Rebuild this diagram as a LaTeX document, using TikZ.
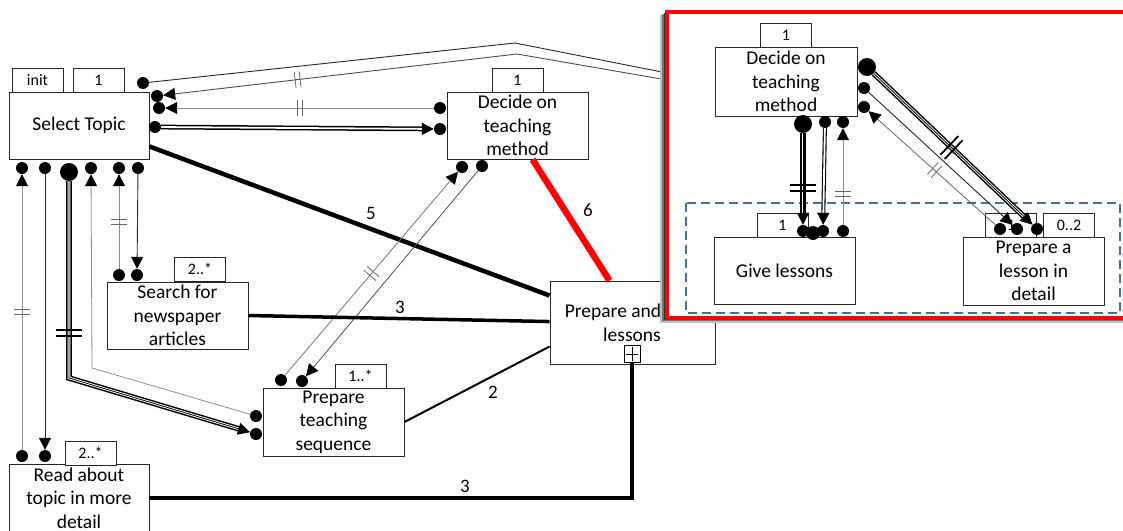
\documentclass[tikz,border=0pt]{standalone}
\usepackage{fontspec}
\setmainfont{Carlito}
\usetikzlibrary{arrows.meta,calc,decorations.markings}
\definecolor{groupblue}{RGB}{65,113,156}
\begin{document}
\begin{tikzpicture}[x=1pt,y=-1pt,
  box/.style={draw=black!85, fill=white, line width=0.9pt, inner sep=0pt, align=center,
    font=\fontsize{19.5}{23.5}\selectfont},
  txt/.style={inner sep=0pt, font=\fontsize{19.5}{23.5}\selectfont},
  tag/.style={draw=black!85, fill=white, line width=0.9pt, inner sep=0pt,
    minimum width=51pt, minimum height=24pt, font=\fontsize{16}{18}\selectfont},
  dot/.style={circle, fill=black, inner sep=0pt, minimum size=12pt},
  bigdot/.style={dot, minimum size=18pt},
  tip/.style={-{Triangle[length=12pt,width=12pt,color=black]}},
  lite/.style={line width=0.8pt, draw=black!45},
  dark/.style={line width=0.9pt, draw=black!85},
  dbl/.style={draw=black, double=white, line width=1.5pt, double distance=1.8pt},
  trip/.style={draw=black, double=white, line width=1.5pt, double distance=2.6pt},
  core/.style={draw=black, line width=0.8pt},
  num/.style={inner sep=0pt, font=\fontsize{19}{22}\selectfont},
  ticks/.style={decorate, decoration={markings, mark=at position #1 with
    {\draw[line width=0.8pt, black!60] (-2.5pt,-8pt) -- (-2.5pt,8pt) (2.5pt,-8pt) -- (2.5pt,8pt);}}},
  bigticks/.style={decorate, decoration={markings, mark=at position #1 with
    {\draw[line width=1.8pt, black] (-3pt,-13pt) -- (-3pt,13pt) (3pt,-13pt) -- (3pt,13pt);}}},
]
\useasboundingbox (0,0) rectangle (1123,530);
\clip (0,0) rectangle (1123,530);

% ---------- activity boxes ----------
\node[box, minimum width=140pt, minimum height=67pt] (st) at (79,125.5) {Select Topic};
\node[tag] (stinit) at (37.5,80.5) {init};
\node[tag] (stone) at (98.5,80.5) {1};

\node[box, minimum width=141pt, minimum height=67pt] (dec) at (517.5,125.5) {Decide on\\teaching\\method};
\node[tag] (dectag) at (517.5,80.5) {1};

\node[box, minimum width=141pt, minimum height=67pt] (srch) at (177.5,315.5) {Search for\\newspaper\\articles};
\node[tag] (srchtag) at (200,269) {2..*};

\node[box, minimum width=141pt, minimum height=68pt] (pts) at (333.5,422) {Prepare\\teaching\\sequence};
\node[tag] (ptstag) at (360.5,376) {1..*};

\node[box, minimum width=140pt, minimum height=68pt] (rd) at (79,498) {Read about\\topic in more\\detail};
\node[tag] (rdtag) at (90.5,453) {2..*};

\node[box, minimum width=165pt, minimum height=83pt] (pal) at (632.5,322.5) {};
\node[txt] (paltxta) at (613,312) {Prepare and};
\node[txt] (paltxtb) at (632,335) {lessons};
\node[draw, line width=0.9pt, fill=white, minimum width=16pt, minimum height=17pt, inner sep=0pt] (plus) at (632,354) {};
\draw[line width=1pt] ($(plus.north)+(0,2)$) -- ($(plus.south)+(0,-2)$)
                      ($(plus.west)+(2,0)$) -- ($(plus.east)+(-2,0)$);

% ---------- connection dots ----------
\node[dot] (s1) at (143,83) {};
\node[dot] (s2) at (157,96) {};
\node[dot] (s3) at (159,108) {};
\node[dot] (s4) at (155,127) {};
\node[dot] (b1) at (22,168) {};
\node[dot] (b2) at (45,168) {};
\node[bigdot] (b3) at (69,172) {};
\node[dot] (b4) at (91,168) {};
\node[dot] (b5) at (119,168) {};
\node[dot] (b6) at (138,168) {};
\node[dot] (dl1) at (440,108) {};
\node[dot] (dl2) at (440,129) {};
\node[dot] (db1) at (462,167) {};
\node[dot] (db2) at (482,166) {};
\node[dot] (sr1) at (119,275) {};
\node[dot] (sr2) at (137,275) {};
\node[dot] (pt1) at (281,380) {};
\node[dot] (pt2) at (302,381) {};
\node[dot] (pl1) at (256,416) {};
\node[dot] (pl2) at (256,434) {};
\node[dot] (r1) at (22,456) {};
\node[dot] (r2) at (45,456) {};

% ---------- connectors ----------
\coordinate (e1) at (667,73);
\coordinate (e2) at (667,80);
\coordinate (k1) at (515,43);
\coordinate (k2) at (517,54);
\draw[dark] (s1) -- (k1) -- (e1);
\draw[dark, draw=black!70, tip] (e2) -- (k2) -- (s2);
\path[ticks=0.62] (k2) -- (s2);

\draw[lite, tip] (dl1) -- (s3);
\path[ticks=0.5] (dl1) -- (s3);

\draw[dbl] (s4) -- ($(dl2)!16pt!(s4)$);
\draw[tip, line width=1pt] ($(dl2)!18pt!(s4)$) -- (dl2);

\draw[line width=4.5pt] ($(st.south east)+(0,-13)$) -- ($(pal.north west)+(0,15)$);

\draw[lite, tip] (r1) -- (b1);
\path[ticks=0.5] (r1) -- (b1);
\draw[dark, tip] (b2) -- (r2);

\coordinate (c3) at (69,378);
\draw[trip] (b3) -- (c3) -- ($(pl2)!16pt!(c3)$);
\draw[core] (b3) -- (c3) -- ($(pl2)!16pt!(c3)$);
\draw[tip, line width=1pt] ($(pl2)!18pt!(c3)$) -- (pl2);
\path[bigticks=0.77] (b3) -- (c3);

\coordinate (c4) at (92,368);
\draw[lite, tip] (pl1) -- (c4) -- (b4);

\draw[lite, tip] (sr1) -- (b5);
\path[ticks=0.5] (sr1) -- (b5);
\draw[dark, tip] (b6) -- (sr2);

\draw[lite, draw=black!55, tip] (pt1) -- (db1);
\path[ticks=0.5] (pt1) -- (db1);
\draw[lite, draw=black!70, tip] (db2) -- (pt2);

\draw[red, line width=6.5pt] ($(dec.south)+(15,0)$) -- ($(pal.north west)+(60,0)$);
\draw[line width=3.5pt] (srch.east) -- ($(pal.north west)+(0,41)$);
\draw[line width=2pt] (pts.east) -- ($(pal.north west)+(0,66)$);
\draw[line width=3.5pt] (plus.south) |- (rd.east);

\node[num] (n5) at (371,213) {5};
\node[num] (n6) at (588,210) {6};
\node[num] (n3a) at (400,307) {3};
\node[num] (n2) at (493,392) {2};
\node[num] (n3b) at (465,486) {3};

% ---------- detail frame with shadow ----------
\fill[black!25] (660,15) rectangle (1135,323);
\fill[black!55] (662,14) rectangle (1135,321);
\fill[black!80] (664,13) rectangle (1135,320);
\draw[red, line width=3.5pt, fill=white] (667,12) rectangle (1135,318);
\draw[groupblue, line width=2.5pt, dash pattern=on 9pt off 5pt] (686,203) rectangle (1120,313);

\node[box, minimum width=142pt, minimum height=69pt] (idec) at (786,81.5) {Decide on\\teaching\\method};
\node[tag] (idectag) at (786,35) {1};
\node[box, minimum width=141pt, minimum height=67pt] (give) at (784.5,270.5) {Give lessons};
\node[tag] (givetag) at (782.5,225) {1};
\node[box, minimum width=141pt, minimum height=68pt] (prep) at (1033.5,271) {Prepare a\\lesson in\\detail};
\node[tag] (preptaga) at (1011,225) {1};
\node[tag] (preptagb) at (1069,225) {0..2};

\node[bigdot] (ia) at (867,67) {};
\node[dot] (ib) at (864,88) {};
\node[dot] (ic) at (864,107) {};
\node[bigdot] (id) at (803,124) {};
\node[dot] (ie) at (825,122) {};
\node[dot] (if) at (843,122) {};
\node[dot] (ga) at (803,231) {};
\node[dot, minimum size=14pt] (gb) at (813,233) {};
\node[dot] (gc) at (823,231) {};
\node[dot] (gd) at (843,231) {};
\node[dot] (pa) at (1000,229) {};
\node[dot] (pb) at (1017,229) {};
\node[dot] (pc) at (1037,229) {};

\draw[trip] (id) -- ($(ga)!16pt!(id)$);
\draw[core] (id) -- ($(ga)!16pt!(id)$);
\draw[tip, line width=1pt] ($(ga)!18pt!(id)$) -- (ga);
\path[bigticks=0.6] (id) -- (ga);

\draw[dbl, line width=1.1pt] (ie) -- ($(gc)!16pt!(ie)$);
\draw[tip, line width=1pt] ($(gc)!18pt!(ie)$) -- (gc);

\draw[lite, tip] (gd) -- (if);
\path[ticks=0.32] (gd) -- (if);

\draw[trip] (ia) -- ($(pc)!16pt!(ia)$);
\draw[core] (ia) -- ($(pc)!16pt!(ia)$);
\draw[tip, line width=1pt] ($(pc)!18pt!(ia)$) -- (pc);
\path[bigticks=0.49] (ia) -- (pc);

\draw[dark, tip] (ib) -- (pb);
\draw[lite, draw=black!60, tip] (pa) -- (ic);
\path[ticks=0.48] (pa) -- (ic);
\end{tikzpicture}
\end{document}
